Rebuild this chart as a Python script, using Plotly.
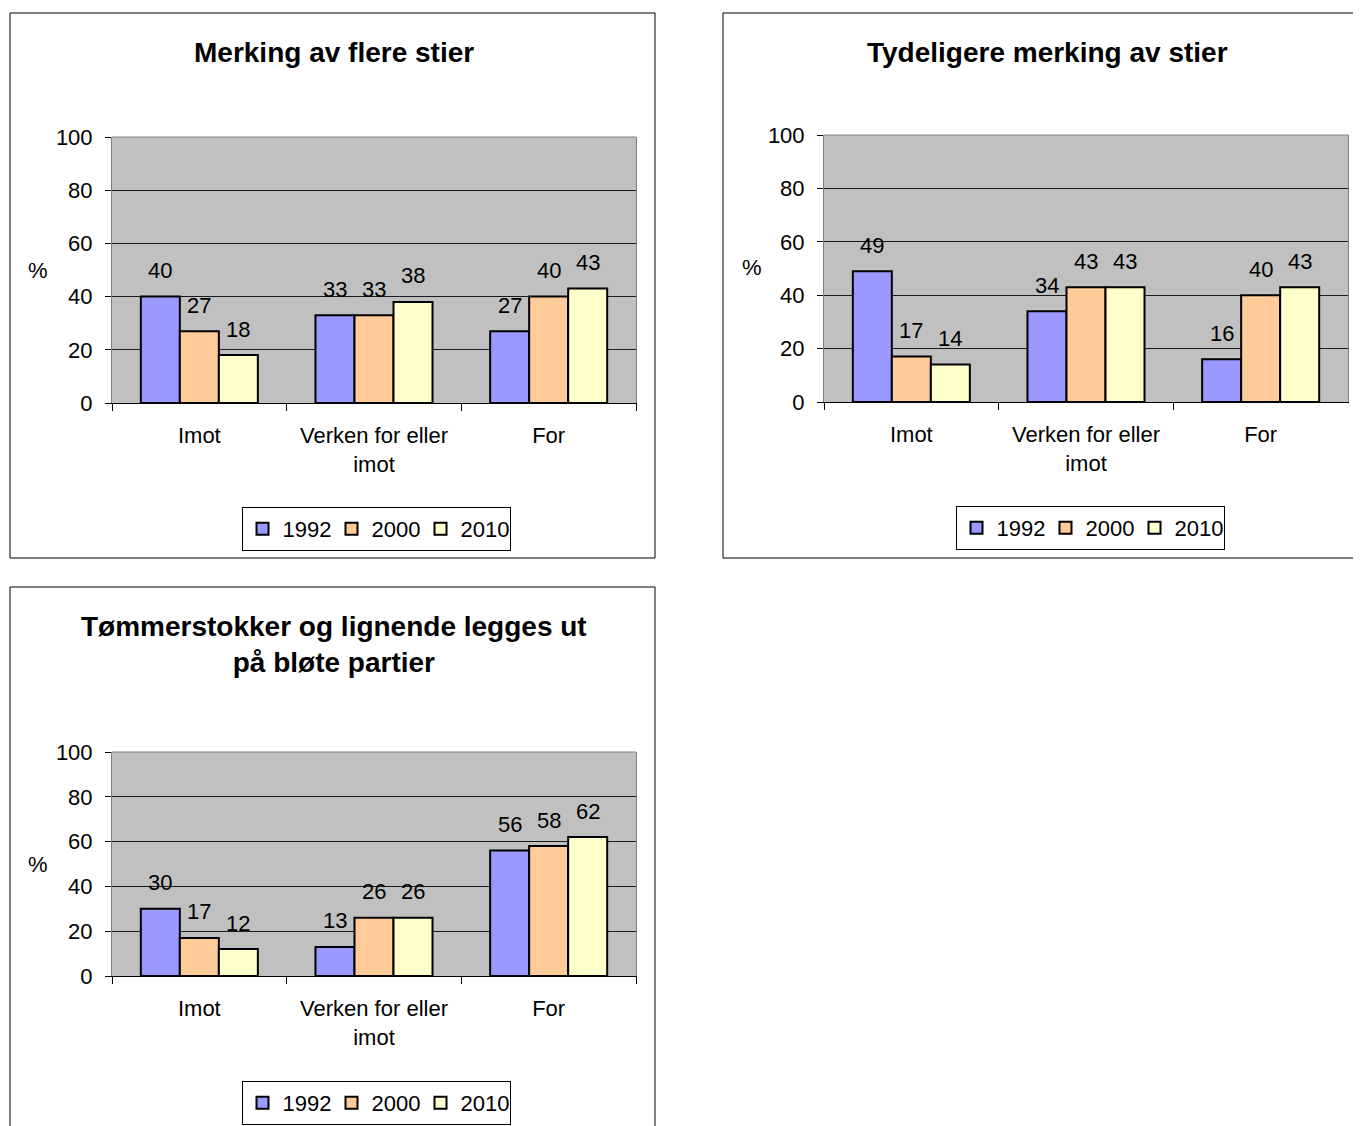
import plotly.graph_objects as go

# categories and values
categories = ["Imot", "Verken for eller<br>imot", "For"]
years = ["1992", "2000", "2010"]
colors = ["#9999FF", "#FFCC99", "#FFFFCC"]

titles = [
    "Merking av flere stier",
    "Tydeligere merking av stier",
    "Tømmerstokker og lignende legges ut<br>på bløte partier",
]

# values per chart: one list per year, in category order
merking_1992 = [40, 33, 27]
merking_2000 = [27, 33, 40]
merking_2010 = [18, 38, 43]

tydelig_1992 = [49, 34, 16]
tydelig_2000 = [17, 43, 40]
tydelig_2010 = [14, 43, 43]

tommer_1992 = [30, 13, 56]
tommer_2000 = [17, 26, 58]
tommer_2010 = [12, 26, 62]

chart_values = [
    [merking_1992, merking_2000, merking_2010],
    [tydelig_1992, tydelig_2000, tydelig_2010],
    [tommer_1992, tommer_2000, tommer_2010],
]

# the page body has an 8px margin, so the figure sits at (8, 8)
OFF = 8
W, H = 1361 - OFF, 1126 - OFF
FONT = "Liberation Sans, Arial, sans-serif"
BAR_W = (524 / 3) * (1 - 0.33) / 3  # px width of one bar in the group


def px(x):
    return (x - OFF) / W


def py(y):
    return 1 - (y - OFF) / H


# pixel boxes of each panel (screen coords): plot area, frame, title, % label, legend centre
panels = [
    dict(plot=(112, 137, 636, 403), frame=(10, 13, 655, 558), title=(334, 52),
         pct=(38, 270), legend=(376, 529)),
    dict(plot=(824, 135, 1348, 402), frame=(723, 13, 1366, 558), title=(1047, 52),
         pct=(752, 268), legend=(1090, 528)),
    dict(plot=(112, 752, 636, 976), frame=(10, 587, 655, 1132), title=(334, 644),
         pct=(38, 864), legend=(376, 1103)),
]

fig = go.Figure()
layout = dict(
    width=W, height=H,
    margin=dict(l=0, r=0, t=0, b=0, autoexpand=False),
    paper_bgcolor="white",
    plot_bgcolor="#C0C0C0",
    barmode="group",
    bargap=0.33,
    bargroupgap=0,
    font=dict(family=FONT, size=22, color="black"),
    showlegend=True,
)
shapes = []
annotations = []

for i, (panel, values) in enumerate(zip(panels, chart_values)):
    n = "" if i == 0 else str(i + 1)
    xa, ya = "x" + n, "y" + n
    leg = "legend" + n
    x0, y0, x1, y1 = panel["plot"]

    for j, (year, color, vals) in enumerate(zip(years, colors, values)):
        fig.add_trace(go.Bar(
            x=categories, y=vals, name=year,
            xaxis=xa, yaxis=ya, legend=leg,
            marker=dict(color=color, line=dict(color="black", width=2)),
            hoverinfo="skip",
        ))
        # value labels above each bar
        for cat, v in zip(categories, vals):
            annotations.append(dict(
                text=str(v), x=cat, y=v, xref=xa, yref=ya,
                showarrow=False, xanchor="center", yanchor="middle",
                xshift=(j - 1) * BAR_W, yshift=26,
                font=dict(family=FONT, size=22, color="black"),
            ))

    layout["xaxis" + n] = dict(
        domain=[px(x0), px(x1)], anchor=ya,
        showline=True, linecolor="black", linewidth=1,
        ticks="outside", tickson="boundaries", ticklen=7, tickcolor="black",
        ticklabelstandoff=13,
        tickfont=dict(family=FONT, size=22, color="black"),
        showgrid=False, fixedrange=True,
    )
    layout["yaxis" + n] = dict(
        domain=[py(y1), py(y0)], anchor=xa,
        range=[0, 100], dtick=20,
        showline=True, linecolor="#808080", linewidth=1, mirror=True,
        ticks="outside", ticklen=6, tickcolor="black",
        ticklabelstandoff=8,
        tickfont=dict(family=FONT, size=22, color="black"),
        showgrid=True, gridcolor="#1a1a1a", gridwidth=1,
        zeroline=False, fixedrange=True,
    )
    lx, ly = panel["legend"]
    layout[leg] = dict(
        orientation="h", x=px(lx), y=py(ly),
        xanchor="center", yanchor="middle",
        bordercolor="black", borderwidth=1, bgcolor="white",
        font=dict(family=FONT, size=22, color="black"),
        itemwidth=30, entrywidth=44, tracegroupgap=0,
    )

    # gray top edge of plot area
    shapes.append(dict(type="line", xref=xa + " domain", yref=ya + " domain",
                       x0=0, x1=1, y0=1, y1=1,
                       line=dict(color="#808080", width=1)))
    # panel frame
    fx0, fy0, fx1, fy1 = panel["frame"]
    shapes.append(dict(type="rect", xref="paper", yref="paper",
                       x0=px(fx0), x1=px(fx1), y0=py(fy1), y1=py(fy0),
                       line=dict(color="black", width=1)))

    tx, ty = panel["title"]
    annotations.append(dict(text="<b>" + titles[i] + "</b>", x=px(tx), y=py(ty),
                            xref="paper", yref="paper", showarrow=False,
                            xanchor="center", yanchor="middle",
                            font=dict(family=FONT, size=28, color="black")))
    cx, cy = panel["pct"]
    annotations.append(dict(text="%", x=px(cx), y=py(cy),
                            xref="paper", yref="paper", showarrow=False,
                            xanchor="center", yanchor="middle",
                            font=dict(family=FONT, size=22, color="black")))

layout["shapes"] = shapes
layout["annotations"] = annotations
fig.update_layout(**layout)

fig.write_html("out.html")
